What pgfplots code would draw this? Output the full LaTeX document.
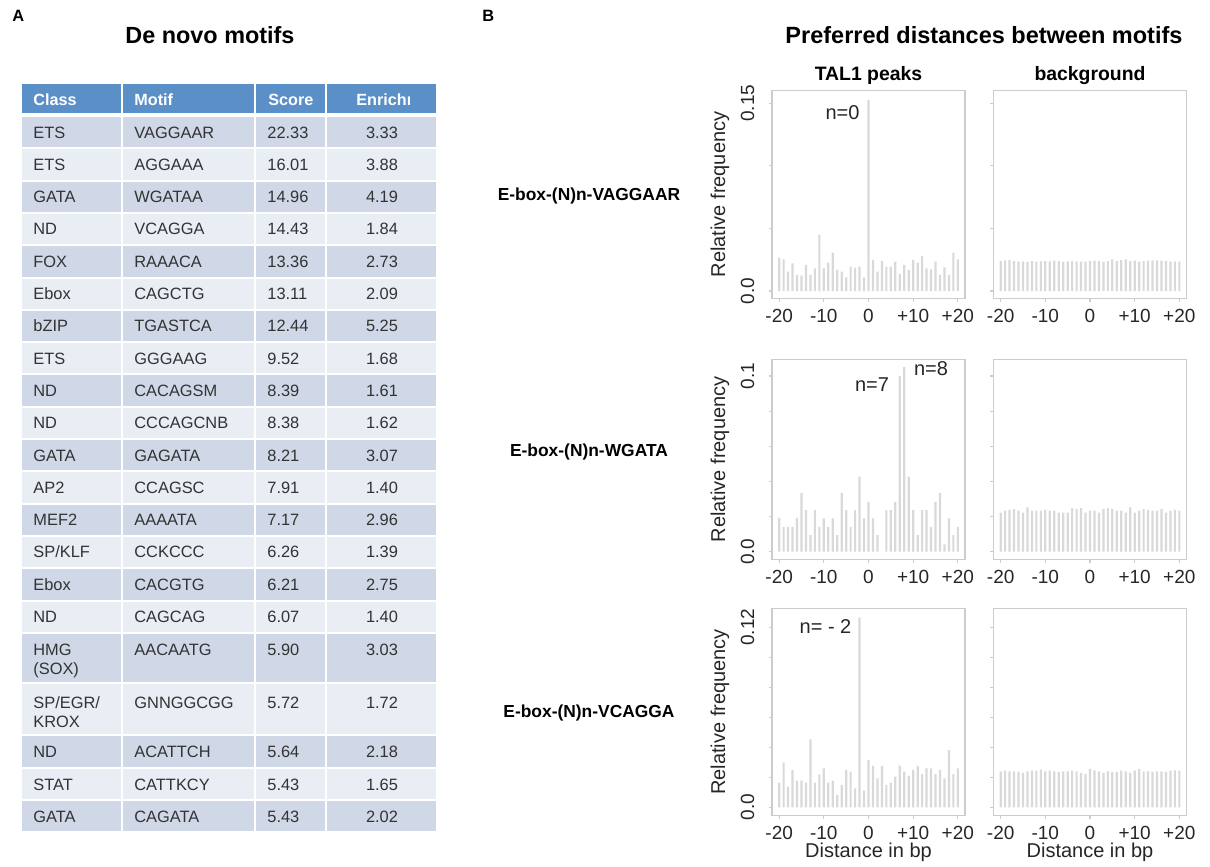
\documentclass[border=0pt]{standalone}
\usepackage{fontspec}
\setmainfont{Liberation Sans}
\usepackage{pgfplots}
\pgfplotsset{compat=1.18}
\definecolor{hdr}{HTML}{5B8FC7}
\definecolor{rowA}{HTML}{D0D8E8}
\definecolor{rowB}{HTML}{E9EDF4}
\definecolor{barc}{HTML}{D9D9D9}
\definecolor{framec}{HTML}{CCCCCC}
\definecolor{cellt}{HTML}{333333}
\newcommand\fs[1]{\fontsize{#1}{#1}\selectfont}

% one table row: top, bottom, fill, baseline, class, motif, score, enrichment
\newcommand\trow[8]{%
  \fill[#3] (22,#1+1) rectangle (121,#2-1);
  \fill[#3] (123,#1+1) rectangle (254,#2-1);
  \fill[#3] (256,#1+1) rectangle (325,#2-1);
  \fill[#3] (327,#1+1) rectangle (436,#2-1);
  \node[anchor=base west] at (33,#4) {#5};
  \node[anchor=base west] at (134,#4) {#6};
  \node[anchor=base west] at (267,#4) {#7};
  \node[anchor=base] at (382,#4) {#8};
}

\pgfplotsset{
  rbox/.style={
    scale only axis, width=96.5pt, anchor=south west,
    xmin=-21.6, xmax=21.6,
    axis line style={draw=framec, line width=0.7pt},
    tick style={draw=framec, line width=0.6pt},
    tick align=outside, major tick length=1.6pt,
    xtick pos=left, ytick pos=left,
    xtick={-20,-10,0,10,20}, xticklabels={-20,-10,0,+10,+20},
    ticklabel style={font=\fs{9.5}, text=black!85, inner sep=0pt},
    xticklabel shift=3.5pt,
    yticklabel style={rotate=90, anchor=south},
    yticklabel shift=7pt,
  },
  rbar/.style={ybar, bar width=1.1pt, fill=barc, draw=none},
}

\begin{document}
\begin{tikzpicture}
\path[use as bounding box] (0,0) rectangle (605pt,-433.5pt);

\begin{scope}[x=0.5pt,y=-0.5pt,every node/.style={inner sep=0pt}]
% ---------- panel A ----------
\node[anchor=base west,font=\fs{8.2}\bfseries] at (12,21.7) {A};
\node[anchor=base,font=\fs{11.7}\bfseries] at (210,43) {De novo motifs};

\fill[hdr] (22,84) rectangle (121,113);
\fill[hdr] (123,84) rectangle (254,113);
\fill[hdr] (256,84) rectangle (325,113);
\fill[hdr] (327,84) rectangle (436,113);
\begin{scope}[every node/.append style={font=\fs{8.1}\bfseries, text=white, anchor=base west}]
\node at (33,105.5) {Class};
\node at (134,105.5) {Motif};
\node at (268,105.5) {Score};
\begin{scope}
\clip (330,84) rectangle (409,113);
\node at (356,105.5) {Enrichment};
\end{scope}
\end{scope}

\begin{scope}[every node/.append style={font=\fs{8.2}, text=cellt}]
\trow{116.0}{148.3}{rowA}{138.0}{ETS}{VAGGAAR}{22.33}{3.33}
\trow{148.3}{180.6}{rowB}{170.3}{ETS}{AGGAAA}{16.01}{3.88}
\trow{180.6}{212.9}{rowA}{202.6}{GATA}{WGATAA}{14.96}{4.19}
\trow{212.9}{245.2}{rowB}{234.9}{ND}{VCAGGA}{14.43}{1.84}
\trow{245.2}{277.5}{rowA}{267.2}{FOX}{RAAACA}{13.36}{2.73}
\trow{277.5}{309.8}{rowB}{299.5}{Ebox}{CAGCTG}{13.11}{2.09}
\trow{309.8}{342.1}{rowA}{331.8}{bZIP}{TGASTCA}{12.44}{5.25}
\trow{342.1}{374.4}{rowB}{364.1}{ETS}{GGGAAG}{9.52}{1.68}
\trow{374.4}{406.7}{rowA}{396.4}{ND}{CACAGSM}{8.39}{1.61}
\trow{406.7}{439.0}{rowB}{428.7}{ND}{CCCAGCNB}{8.38}{1.62}
\trow{439.0}{471.3}{rowA}{461.0}{GATA}{GAGATA}{8.21}{3.07}
\trow{471.3}{503.6}{rowB}{493.3}{AP2}{CCAGSC}{7.91}{1.40}
\trow{503.6}{535.9}{rowA}{525.6}{MEF2}{AAAATA}{7.17}{2.96}
\trow{535.9}{568.2}{rowB}{557.9}{SP/KLF}{CCKCCC}{6.26}{1.39}
\trow{568.2}{600.5}{rowA}{590.2}{Ebox}{CACGTG}{6.21}{2.75}
\trow{600.5}{632.8}{rowB}{622.5}{ND}{CAGCAG}{6.07}{1.40}
\trow{632.8}{683.0}{rowA}{655.8}{HMG}{AACAATG}{5.90}{3.03}
\node[anchor=base west] at (33,674) {(SOX)};
\trow{683.0}{735.0}{rowB}{708.4}{SP/EGR/}{GNNGGCGG}{5.72}{1.72}
\node[anchor=base west] at (33,727) {KROX};
\trow{735.0}{768.0}{rowA}{757.0}{ND}{ACATTCH}{5.64}{2.18}
\trow{768.0}{800.0}{rowB}{790.0}{STAT}{CATTKCY}{5.43}{1.65}
\trow{800.0}{832.0}{rowA}{822.0}{GATA}{CAGATA}{5.43}{2.02}
\end{scope}

% ---------- panel B texts ----------
\node[anchor=base west,font=\fs{8.2}\bfseries] at (482,21.7) {B};
\node[anchor=base,font=\fs{11.75}\bfseries] at (984,43) {Preferred distances between motifs};
\node[anchor=base,font=\fs{9.7}\bfseries] at (868.5,80) {TAL1 peaks};
\node[anchor=base,font=\fs{9.7}\bfseries] at (1090,80) {background};

\node[font=\fs{8.7}\bfseries] at (589,196) {E-box-(N)n-VAGGAAR};
\node[font=\fs{8.7}\bfseries] at (589,452) {E-box-(N)n-WGATA};
\node[font=\fs{8.7}\bfseries] at (589,713) {E-box-(N)n-VCAGGA};

\begin{scope}[every node/.append style={font=\fs{10}, text=black!85}]
\node[rotate=90] at (720,194.5) {Relative frequency};
\node[rotate=90] at (720,459.4) {Relative frequency};
\node[rotate=90] at (720,711.9) {Relative frequency};
\node[anchor=base] at (868.5,857.5) {Distance in bp};
\node[anchor=base] at (1090,857.5) {Distance in bp};
\node[anchor=base] at (842.5,119.3) {n=0};
\node[anchor=base] at (872,391.7) {n=7};
\node[anchor=base] at (931,375) {n=8};
\node[anchor=base] at (825.5,633) {n= - 2};
\end{scope}

\coordinate (t1) at (772,298.3);
\coordinate (b1) at (993.5,298.3);
\coordinate (t2) at (772,559.5);
\coordinate (b2) at (993.5,559.5);
\coordinate (t3) at (772,815.5);
\coordinate (b3) at (993.5,815.5);
\end{scope}

% ---------- row 1: VAGGAAR ----------
\begin{axis}[rbox, at={(t1)}, height=103.8pt, ymin=-0.00583, ymax=0.16007,
  ytick={0,0.05,0.1,0.15}, yticklabels={0.0,{},{},0.15}]
\addplot[rbar] coordinates {(-20,0.0266) (-19,0.0253) (-18,0.0155) (-17,0.0221) (-16,0.0128) (-15,0.0123) (-14,0.0208) (-13,0.0128) (-12,0.0181) (-11,0.0448) (-10,0.0181) (-9,0.0226) (-8,0.0306) (-7,0.0168) (-6,0.0155) (-5,0.0109) (-4,0.0195) (-3,0.0187) (-2,0.0195) (-1,0.0109) (0,0.1527) (1,0.0248) (2,0.0155) (3,0.0240) (4,0.0195) (5,0.0195) (6,0.0234) (7,0.0136) (8,0.0208) (9,0.0168) (10,0.0248) (11,0.0226) (12,0.0280) (13,0.0181) (14,0.0173) (15,0.0234) (16,0.0128) (17,0.0189) (18,0.0128) (19,0.0306) (20,0.0253)};
\end{axis}
\begin{axis}[rbox, at={(b1)}, height=103.8pt, ymin=-0.00583, ymax=0.16007,
  ytick={0,0.05,0.1,0.15}, yticklabels={{},{},{},{}}]
\addplot[rbar] coordinates {(-20,0.0239) (-19,0.0245) (-18,0.0247) (-17,0.0239) (-16,0.0234) (-15,0.0237) (-14,0.0231) (-13,0.0239) (-12,0.0234) (-11,0.0237) (-10,0.0239) (-9,0.0237) (-8,0.0242) (-7,0.0239) (-6,0.0234) (-5,0.0237) (-4,0.0239) (-3,0.0237) (-2,0.0234) (-1,0.0234) (0,0.0239) (1,0.0242) (2,0.0239) (3,0.0234) (4,0.0239) (5,0.0253) (6,0.0239) (7,0.0247) (8,0.0253) (9,0.0239) (10,0.0242) (11,0.0234) (12,0.0239) (13,0.0242) (14,0.0245) (15,0.0245) (16,0.0242) (17,0.0239) (18,0.0234) (19,0.0237) (20,0.0234)};
\end{axis}

% ---------- row 2: WGATA ----------
\begin{axis}[rbox, at={(t2)}, height=100.1pt, ymin=-0.00444, ymax=0.1095,
  ytick={0,0.02,0.04,0.06,0.08,0.1}, yticklabels={0.0,{},{},{},{},0.1}]
\addplot[rbar] coordinates {(-20,0.0192) (-19,0.0142) (-18,0.0142) (-17,0.0142) (-16,0.0192) (-15,0.0334) (-14,0.0236) (-13,0.0094) (-12,0.0236) (-11,0.0142) (-10,0.0189) (-9,0.0142) (-8,0.0189) (-7,0.0094) (-6,0.0334) (-5,0.0236) (-4,0.0142) (-3,0.0236) (-2,0.0428) (-1,0.0189) (0,0.0283) (1,0.0189) (2,0.0094) (4,0.0236) (5,0.0236) (6,0.0283) (7,0.1000) (8,0.1051) (9,0.0428) (10,0.0236) (11,0.0094) (12,0.0236) (13,0.0236) (14,0.0142) (15,0.0283) (16,0.0334) (17,0.0042) (18,0.0189) (19,0.0094) (20,0.0142)};
\end{axis}
\begin{axis}[rbox, at={(b2)}, height=100.1pt, ymin=-0.00444, ymax=0.1095,
  ytick={0,0.02,0.04,0.06,0.08,0.1}, yticklabels={{},{},{},{},{},{}}]
\addplot[rbar] coordinates {(-20,0.0223) (-19,0.0234) (-18,0.0238) (-17,0.0242) (-16,0.0234) (-15,0.0223) (-14,0.0253) (-13,0.0234) (-12,0.0234) (-11,0.0234) (-10,0.0238) (-9,0.0234) (-8,0.0234) (-7,0.0223) (-6,0.0223) (-5,0.0223) (-4,0.0248) (-3,0.0242) (-2,0.0248) (-1,0.0223) (0,0.0234) (1,0.0234) (2,0.0223) (3,0.0242) (4,0.0248) (5,0.0242) (6,0.0234) (7,0.0234) (8,0.0223) (9,0.0253) (10,0.0223) (11,0.0234) (12,0.0242) (13,0.0238) (14,0.0234) (15,0.0234) (16,0.0242) (17,0.0223) (18,0.0234) (19,0.0238) (20,0.0234)};
\end{axis}

% ---------- row 3: VCAGGA ----------
\begin{axis}[rbox, at={(t3)}, height=103.6pt, ymin=-0.00547, ymax=0.13267,
  ytick={0,0.02,0.04,0.06,0.08,0.1,0.12}, yticklabels={0.0,{},{},{},{},{},0.12}]
\addplot[rbar] coordinates {(-20,0.0164) (-19,0.0300) (-18,0.0138) (-17,0.0249) (-16,0.0178) (-15,0.0178) (-14,0.0164) (-13,0.0453) (-12,0.0164) (-11,0.0220) (-10,0.0260) (-9,0.0164) (-8,0.0178) (-7,0.0082) (-6,0.0149) (-5,0.0249) (-4,0.0238) (-3,0.0127) (-2,0.1267) (-1,0.0111) (0,0.0316) (1,0.0278) (2,0.0193) (3,0.0276) (4,0.0149) (5,0.0164) (6,0.0204) (7,0.0278) (8,0.0238) (9,0.0209) (10,0.0249) (11,0.0276) (12,0.0222) (13,0.0260) (14,0.0260) (15,0.0222) (16,0.0249) (17,0.0193) (18,0.0382) (19,0.0222) (20,0.0260)};
\end{axis}
\begin{axis}[rbox, at={(b3)}, height=103.6pt, ymin=-0.00547, ymax=0.13267,
  ytick={0,0.02,0.04,0.06,0.08,0.1,0.12}, yticklabels={{},{},{},{},{},{},{}}]
\addplot[rbar] coordinates {(-20,0.0240) (-19,0.0244) (-18,0.0240) (-17,0.0240) (-16,0.0236) (-15,0.0229) (-14,0.0240) (-13,0.0244) (-12,0.0244) (-11,0.0251) (-10,0.0240) (-9,0.0244) (-8,0.0240) (-7,0.0236) (-6,0.0240) (-5,0.0240) (-4,0.0244) (-3,0.0240) (-2,0.0229) (-1,0.0222) (0,0.0256) (1,0.0247) (2,0.0240) (3,0.0229) (4,0.0240) (5,0.0236) (6,0.0236) (7,0.0244) (8,0.0240) (9,0.0229) (10,0.0244) (11,0.0256) (12,0.0240) (13,0.0240) (14,0.0236) (15,0.0240) (16,0.0240) (17,0.0236) (18,0.0244) (19,0.0247) (20,0.0244)};
\end{axis}
\end{tikzpicture}
\end{document}
